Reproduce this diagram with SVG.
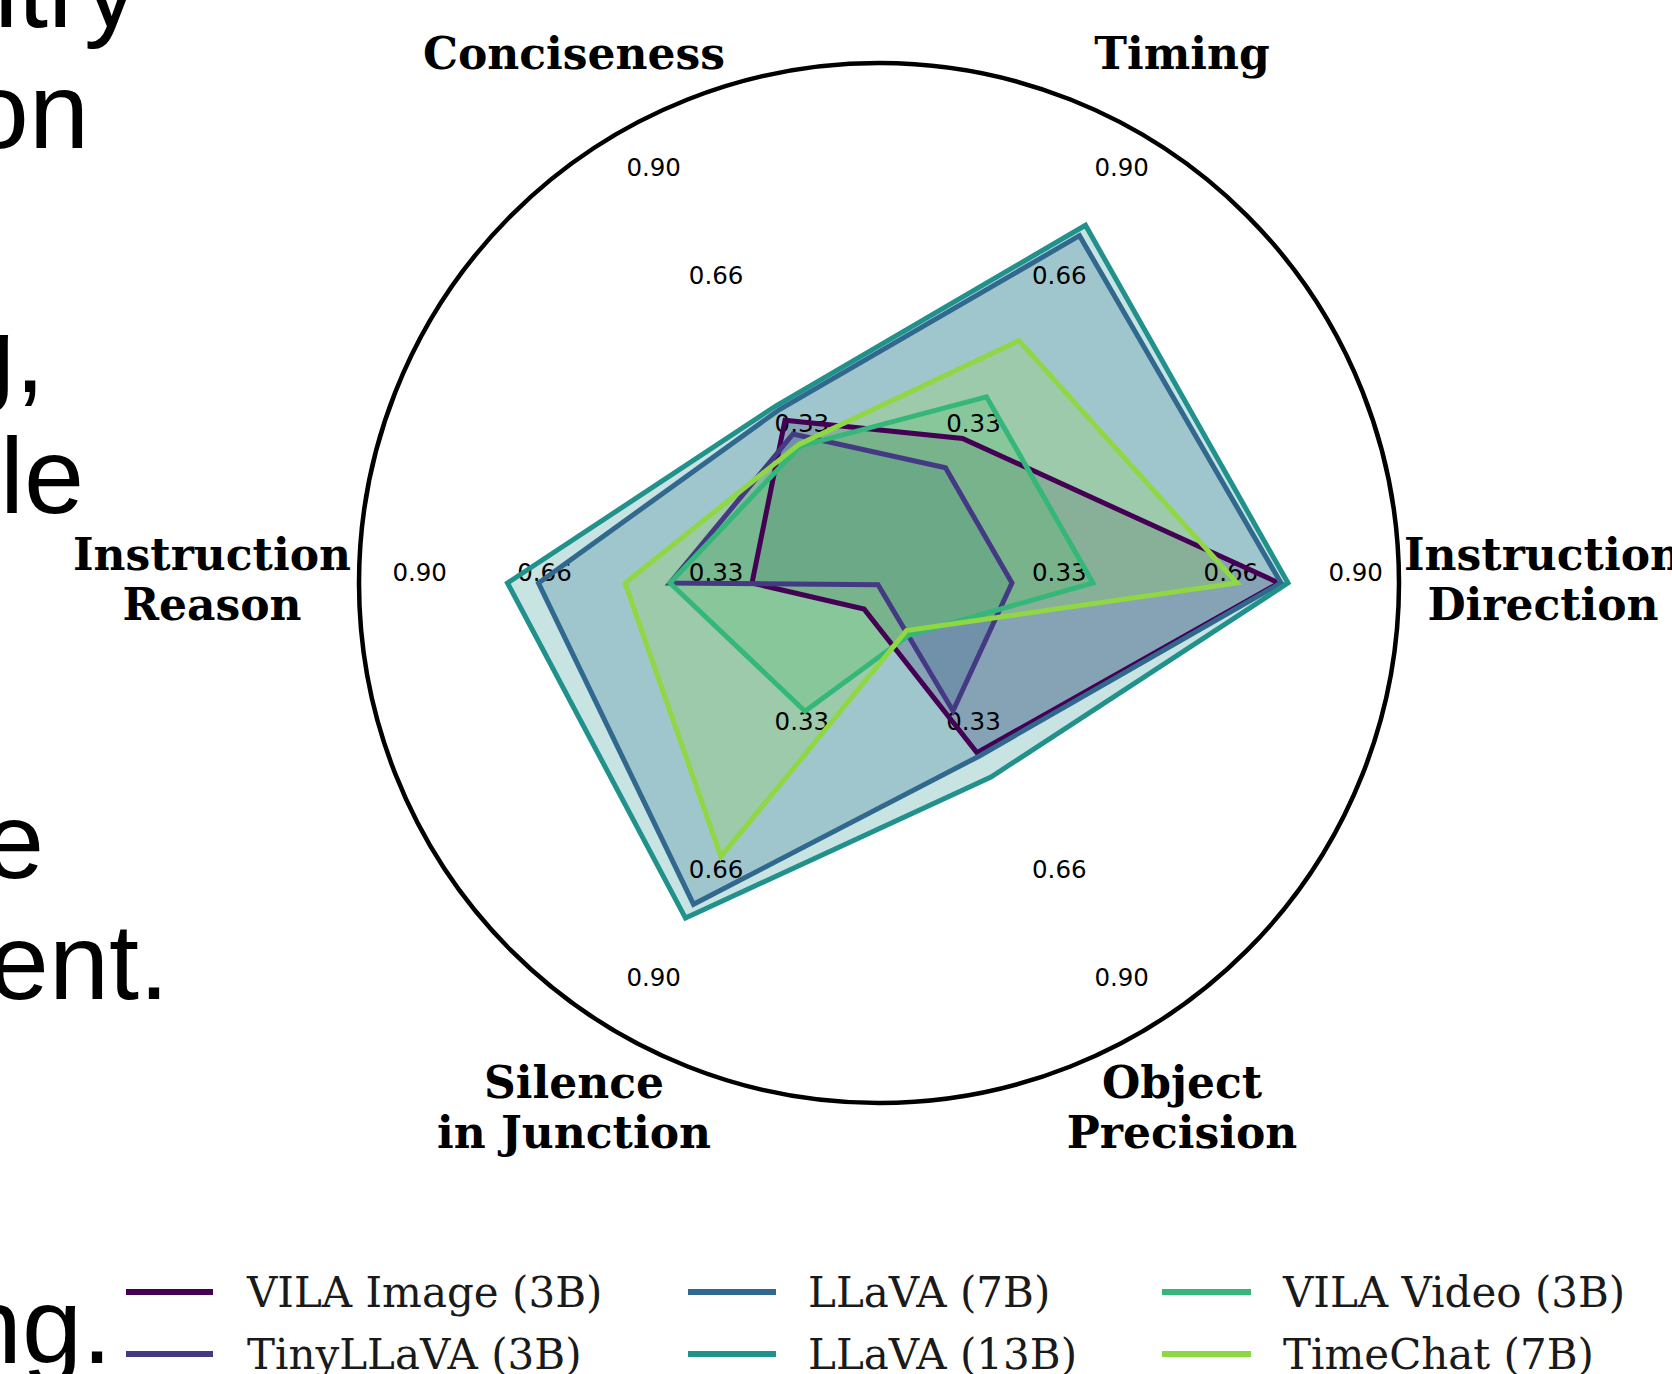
<svg xmlns="http://www.w3.org/2000/svg" width="1672" height="1374" viewBox="0 0 1672 1374">
<style>
.slide{font-family:"Liberation Sans",Arial,sans-serif;font-size:108px;fill:#000;text-anchor:end}
.ax{font-family:"DejaVu Serif",serif;font-weight:bold;font-size:44px;fill:#000;text-anchor:middle}
.tk{font-family:"DejaVu Sans",sans-serif;font-size:24.5px;fill:#000;text-anchor:middle}
.lg{font-family:"DejaVu Serif",serif;font-size:42px;fill:#1a1a1a}
.f{stroke:none;fill-opacity:0.25}
.l{fill:none;stroke-width:5;stroke-linejoin:miter}
.c0{fill:#440154;stroke:#440154}
.c1{fill:#443a83;stroke:#443a83}
.c2{fill:#31688e;stroke:#31688e}
.c3{fill:#21918c;stroke:#21918c}
.c4{fill:#35b779;stroke:#35b779}
.c5{fill:#8fd744;stroke:#8fd744}
.lgl{stroke-width:6;fill:none}
</style>
<rect width="1672" height="1374" fill="#fff"/>
<g id="slide-text">
<text class="slide" x="138" y="27">ntry</text>
<text class="slide" x="89" y="148">on</text>
<text class="slide" x="45" y="392">g,</text>
<text class="slide" x="84" y="513">cle</text>
<text class="slide" x="44" y="878">e</text>
<text class="slide" x="169" y="999">ent.</text>
<text class="slide" x="112" y="1363">ng.</text>
</g>
<g id="fills">
<polygon class="f c0" points="1279,583 962.5,438.4 785,420.2 752,583 864,609 977,752.7"/>
<polygon class="f c1" points="1012,583 945.5,467.8 793,434 670,583 878,584.7 953,711"/>
<polygon class="f c2" points="1281,583 1079.5,235.7 779,409.8 538.5,583 693.5,904.3 979,756.2"/>
<polygon class="f c3" points="1288,583 1085.5,225.3 776.5,405.5 507.5,583 685.5,918.1 991,777"/>
<polygon class="f c4" points="1093,583 986.5,396.8 800,446.2 670,583 805,711.2 909,635"/>
<polygon class="f c5" points="1237,583 1019,340.5 799,444.4 625,583 721,856.7 906.5,630.6"/>
</g>
<g id="ticks">
<text class="tk" x="1059.3" y="581">0.33</text>
<text class="tk" x="1230.9" y="581">0.66</text>
<text class="tk" x="1355.7" y="581">0.90</text>
<text class="tk" x="973.5" y="432.4">0.33</text>
<text class="tk" x="1059.3" y="283.8">0.66</text>
<text class="tk" x="1121.7" y="175.7">0.90</text>
<text class="tk" x="801.9" y="432.4">0.33</text>
<text class="tk" x="716.1" y="283.8">0.66</text>
<text class="tk" x="653.7" y="175.7">0.90</text>
<text class="tk" x="716.1" y="581">0.33</text>
<text class="tk" x="544.5" y="581">0.66</text>
<text class="tk" x="419.7" y="581">0.90</text>
<text class="tk" x="801.9" y="729.6">0.33</text>
<text class="tk" x="716.1" y="878.2">0.66</text>
<text class="tk" x="653.7" y="986.3">0.90</text>
<text class="tk" x="973.5" y="729.6">0.33</text>
<text class="tk" x="1059.3" y="878.2">0.66</text>
<text class="tk" x="1121.7" y="986.3">0.90</text>
</g>
<g id="series-lines">
<polygon class="l c0" style="fill:none" points="1279,583 962.5,438.4 785,420.2 752,583 864,609 977,752.7"/>
<polygon class="l c1" style="fill:none" points="1012,583 945.5,467.8 793,434 670,583 878,584.7 953,711"/>
<polygon class="l c2" style="fill:none" points="1281,583 1079.5,235.7 779,409.8 538.5,583 693.5,904.3 979,756.2"/>
<polygon class="l c3" style="fill:none" points="1288,583 1085.5,225.3 776.5,405.5 507.5,583 685.5,918.1 991,777"/>
<polygon class="l c4" style="fill:none" points="1093,583 986.5,396.8 800,446.2 670,583 805,711.2 909,635"/>
<polygon class="l c5" style="fill:none" points="1237,583 1019,340.5 799,444.4 625,583 721,856.7 906.5,630.6"/>
</g>
<circle id="frame" cx="879" cy="583" r="520" fill="none" stroke="#000" stroke-width="4.5"/>
<g id="axis-labels">
<text class="ax" x="574" y="69">Conciseness</text>
<text class="ax" x="1182" y="69">Timing</text>
<g id="label-instruction-direction"><text class="ax" x="1543" y="570">Instruction</text><text class="ax" x="1543" y="620">Direction</text></g>
<g id="label-instruction-reason"><text class="ax" x="212" y="570">Instruction</text><text class="ax" x="212" y="620">Reason</text></g>
<g id="label-silence"><text class="ax" x="574" y="1098">Silence</text><text class="ax" x="574" y="1148">in Junction</text></g>
<g id="label-object"><text class="ax" x="1182" y="1098">Object</text><text class="ax" x="1182" y="1148">Precision</text></g>
</g>
<g id="legend">
<line class="lgl c0" x1="126" y1="1292" x2="213" y2="1292"/><text class="lg" x="247" y="1307">VILA Image (3B)</text>
<line class="lgl c1" x1="126" y1="1354" x2="213" y2="1354"/><text class="lg" x="247" y="1369">TinyLLaVA (3B)</text>
<line class="lgl c2" x1="688" y1="1292" x2="776" y2="1292"/><text class="lg" x="808" y="1307">LLaVA (7B)</text>
<line class="lgl c3" x1="688" y1="1354" x2="776" y2="1354"/><text class="lg" x="808" y="1369">LLaVA (13B)</text>
<line class="lgl c4" x1="1162" y1="1292" x2="1251" y2="1292"/><text class="lg" x="1283" y="1307">VILA Video (3B)</text>
<line class="lgl c5" x1="1162" y1="1354" x2="1251" y2="1354"/><text class="lg" x="1283" y="1369">TimeChat (7B)</text>
</g>
</svg>
